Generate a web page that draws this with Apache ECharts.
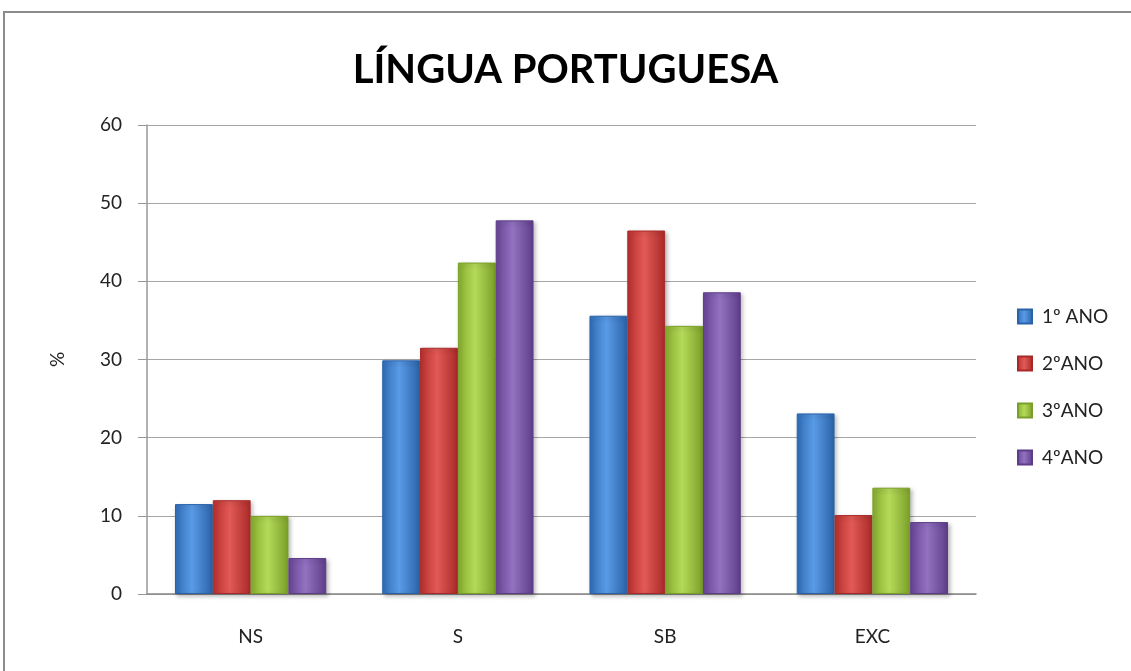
<!DOCTYPE html>
<html>
<head>
<meta charset="utf-8">
<script src="https://cdn.jsdelivr.net/npm/echarts@6/dist/echarts.min.js"></script>
<style>
  html, body { margin: 0; padding: 0; background: #fff; }
  #chart { width: 1131px; height: 671px; }
</style>
</head>
<body>
<div id="chart"></div>
<script>
// dados
const categories = ['NS', 'S', 'SB', 'EXC'];
const seriesNames = ['1º ANO', '2ºANO', '3ºANO', '4ºANO'];
const ano1 = [11.5, 29.9, 35.6, 23.1];
const ano2 = [12.0, 31.5, 46.5, 10.1];
const ano3 = [10.0, 42.4, 34.3, 13.6];
const ano4 = [4.6, 47.8, 38.6, 9.2];
const yTicks = [0, 10, 20, 30, 40, 50, 60];

const palette = [
  ['#2f6db8', '#5a9be6', '#2a62a8'],
  ['#b8302e', '#e25a56', '#a82a28'],
  ['#86ad2e', '#b5da5a', '#7a9f28'],
  ['#684596', '#9372c2', '#5d3c88']
];

const barStyle = (c) => ({
  color: new echarts.graphic.LinearGradient(0, 0, 1, 0, [
    { offset: 0, color: c[0] },
    { offset: 0.45, color: c[1] },
    { offset: 1, color: c[2] }
  ]),
  borderColor: c[2],
  borderWidth: 1,
  shadowColor: 'rgba(0,0,0,0.25)',
  shadowBlur: 4,
  shadowOffsetX: 2,
  shadowOffsetY: 2
});

const values = [ano1, ano2, ano3, ano4];

const chart = echarts.init(document.getElementById('chart'));
chart.setOption({
  backgroundColor: '#fff',
  animation: false,
  textStyle: { fontFamily: 'Lato, "Open Sans", sans-serif' },
  graphic: [{
    type: 'rect',
    shape: { x: 4, y: 12, width: 1200, height: 700 },
    style: { fill: 'none', stroke: '#8c8c8c', lineWidth: 2 },
    silent: true
  }],
  title: {
    text: 'LÍNGUA PORTUGUESA',
    left: 'center',
    top: 45,
    textStyle: { fontSize: 40, fontWeight: 'bold', color: '#000', fontFamily: 'Lato, sans-serif' }
  },
  legend: {
    orient: 'vertical',
    left: 1017,
    top: 307,
    padding: 0,
    itemWidth: 14,
    itemHeight: 14,
    itemGap: 28,
    icon: 'rect',
    textStyle: { fontSize: 19, color: '#222', padding: [0, 0, 0, 5] },
    data: seriesNames
  },
  grid: { left: 147, right: 155, top: 125, bottom: 77 },
  xAxis: {
    type: 'category',
    data: categories,
    axisLine: { lineStyle: { color: '#888', width: 1.5 } },
    axisTick: { show: false },
    axisLabel: { fontSize: 19, color: '#222', margin: 33 }
  },
  yAxis: {
    type: 'value',
    min: 0,
    max: 60,
    interval: 10,
    name: '%',
    nameLocation: 'middle',
    nameRotate: 90,
    nameGap: 80,
    nameTextStyle: { fontSize: 19, color: '#222' },
    axisLine: { show: true, lineStyle: { color: '#999', width: 1.5 } },
    axisTick: { show: true, length: 9, lineStyle: { color: '#999' } },
    axisLabel: {
      fontSize: 19, color: '#222', margin: 25,
      formatter: (v) => yTicks.includes(v) ? String(v) : ''
    },
    splitLine: { lineStyle: { color: '#a6a6a6', width: 1.2 } }
  },
  series: seriesNames.map((name, i) => ({
    name,
    type: 'bar',
    data: values[i],
    barGap: '0%',
    barCategoryGap: '27%',
    itemStyle: barStyle(palette[i])
  }))
});
</script>
</body>
</html>
